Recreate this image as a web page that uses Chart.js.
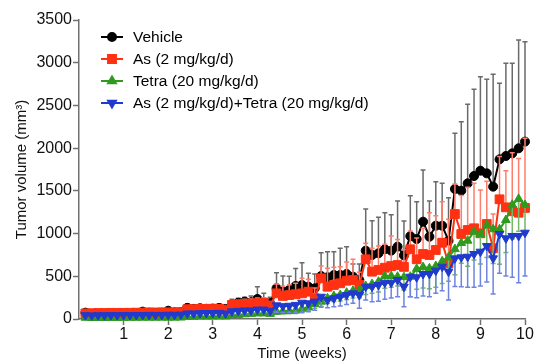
<!DOCTYPE html>
<html>
<head>
<meta charset="utf-8">
<script src="https://cdn.jsdelivr.net/npm/chart.js@4.4.1/dist/chart.umd.min.js"></script>
<style>
html,body{margin:0;padding:0;background:#fff;}
canvas{display:block;}
</style>
</head>
<body>
<canvas id="c" width="535" height="363"></canvas>
<script>
// Measurement days (x axis shown in weeks)
const days = [1,2,3,4,5,6,7,8,9,10,11,12,13,14,15,16,17,18,19,20,21,22,23,24,25,26,27,28,29,30,31,32,33,34,35,36,37,38,39,40,41,42,43,44,45,46,47,48,49,50,51,52,53,54,55,56,57,58,59,60,61,62,63,64,65,66,67,68,69,70];

const seriesLabels = ["Vehicle", "As (2 mg/kg/d)", "Tetra (20 mg/kg/d)", "As (2 mg/kg/d)+Tetra (20 mg/kg/d)"];

const vehicle = [74,55,58,60,62,62,64,60,65,86,75,72,75,97,78,80,
  130,118,125,120,122,128,118,
  160,190,203,195,234,200,185,
  359,320,340,386,398,378,359,
  503,488,515,515,527,495,456,
  800,749,769,816,800,847,745,
  970,936,1139,963,1092,1092,917,
  1522,1502,1588,1674,1736,1705,1549,
  1869,1908,1939,1998,2076];
const vehicleErr = [20,15,15,15,15,18,18,15,18,25,20,20,22,30,22,25,
  45,40,45,40,45,50,40,
  70,52,51,74,144,100,69,
  183,183,160,204,261,157,168,
  273,300,273,313,320,149,188,
  488,402,421,428,420,534,402,
  473,437,605,418,515,496,503,
  652,808,925,1015,1101,1101,1315,
  890,1085,1054,1268,1170];

const arsenic = [65,68,70,70,72,72,72,73,74,75,76,76,77,78,78,80,
  115,115,118,118,120,120,110,
  165,170,175,180,185,190,155,
  300,270,280,290,300,320,242,
  476,378,398,418,448,456,398,
  699,554,574,600,620,632,610,
  816,699,761,749,808,893,652,
  1229,995,1042,1062,1003,1112,828,
  1401,1307,1261,1244,1300];
const arsenicErr = [10,10,10,10,10,12,12,12,12,12,12,12,14,14,14,14,
  30,30,32,32,35,35,30,
  50,50,55,55,60,60,50,
  110,115,120,128,176,145,120,
  144,215,207,194,220,243,150,
  187,274,280,274,352,300,200,
  214,250,300,495,400,480,515,
  350,450,500,526,507,500,400,
  500,429,686,636,815];

const tetra = [15,12,12,12,13,13,14,14,14,15,15,15,16,16,16,17,
  25,26,28,28,30,30,30,
  45,48,55,60,65,65,60,
  85,90,95,100,120,135,175,
  203,242,269,281,308,331,339,
  386,410,437,503,503,495,490,
  495,587,608,593,620,675,722,
  818,890,917,1022,993,1100,1050,
  1050,1159,1338,1406,1334];
const tetraErr = [5,5,5,5,5,5,5,5,5,6,6,6,6,6,6,6,
  10,10,10,10,12,12,12,
  18,18,20,20,22,22,20,
  30,30,35,35,40,45,50,
  55,60,65,70,80,85,90,
  100,110,120,144,130,109,150,
  234,240,245,240,249,260,280,
  300,238,300,330,350,380,400,
  410,380,400,380,330];

const combo = [45,42,43,44,45,45,46,46,47,47,48,48,48,50,50,52,
  65,65,68,70,70,72,65,
  90,95,100,100,110,110,95,
  160,150,155,165,191,184,203,
  261,222,242,261,281,300,281,
  378,378,398,425,425,456,378,
  495,488,527,527,566,612,554,
  710,722,729,761,788,854,710,
  995,944,972,972,1010];
const comboErr = [10,10,10,10,10,10,10,10,10,10,11,11,11,12,12,12,
  20,20,22,22,22,24,20,
  35,35,38,38,40,40,35,
  80,75,80,85,117,98,100,
  124,90,100,109,110,116,156,
  156,175,190,195,180,195,234,
  234,239,258,266,266,280,332,
  330,344,358,390,402,420,417,
  460,441,484,547,507];

const xTicks = [1,2,3,4,5,6,7,8,9,10];
const yTicks = [0,500,1000,1500,2000,2500,3000,3500];

const FONT = "'Liberation Sans', Arial, Helvetica, sans-serif";

function pts(vals){ return vals.map((v,i)=>({x: days[i]/7, y: v})); }

const errPlugin = {
  id: 'errbars',
  beforeDatasetDraw(chart, args){
    const ds = chart.data.datasets[args.index];
    if (!ds.err) return;
    const ys = chart.scales.y;
    const ctx = chart.ctx;
    ctx.save();
    ctx.strokeStyle = ds.errColor;
    ctx.lineWidth = 1.5;
    args.meta.data.forEach((el, i) => {
      const v = ds.data[i].y;
      const e = ds.err[i];
      const y1 = ys.getPixelForValue(v);
      const y2 = ys.getPixelForValue(v + ds.errDir * e);
      ctx.beginPath();
      ctx.moveTo(el.x, y1);
      ctx.lineTo(el.x, y2);
      ctx.moveTo(el.x - 2.5, y2);
      ctx.lineTo(el.x + 2.5, y2);
      ctx.stroke();
    });
    ctx.restore();
  }
};

const legendPlugin = {
  id: 'insideLegend',
  afterDraw(chart){
    const ctx = chart.ctx;
    const rows = [37, 59, 81, 103];
    ctx.save();
    chart.data.datasets.forEach((ds, i) => {
      const y = rows[i];
      ctx.strokeStyle = ds.borderColor;
      ctx.lineWidth = 2;
      ctx.beginPath();
      ctx.moveTo(101, y);
      ctx.lineTo(123, y);
      ctx.stroke();
      ctx.fillStyle = ds.backgroundColor;
      ctx.strokeStyle = ds.borderColor;
      Chart.helpers.drawPoint(ctx, {pointStyle: ds.pointStyle, radius: ds.legendRadius, rotation: ds.pointRotation || 0, borderWidth: 1}, 112, y);
      ctx.fillStyle = '#000';
      ctx.font = "15.5px " + FONT;
      ctx.textBaseline = 'middle';
      ctx.textAlign = 'left';
      ctx.fillText(seriesLabels[i], 133, y + 1);
    });
    ctx.restore();
  }
};

const AXIS = '#707070';

new Chart(document.getElementById('c'), {
  type: 'line',
  data: {
    datasets: [
      { label: seriesLabels[0], data: pts(vehicle), err: vehicleErr, errDir: 1, errColor: '#6a6a6a',
        borderColor: '#000000', backgroundColor: '#000000', pointStyle: 'circle', pointRadius: 4.5, legendRadius: 4,
        borderWidth: 2, pointBorderWidth: 1, order: 4 },
      { label: seriesLabels[1], data: pts(arsenic), err: arsenicErr, errDir: 1, errColor: '#ff7d6b',
        borderColor: '#ff3112', backgroundColor: '#ff3112', pointStyle: 'rect', pointRadius: 6.2, legendRadius: 5.6,
        borderWidth: 2, pointBorderWidth: 1, order: 3 },
      { label: seriesLabels[2], data: pts(tetra), err: tetraErr, errDir: -1, errColor: '#72b866',
        borderColor: '#2f9a1e', backgroundColor: '#2f9a1e', pointStyle: 'triangle', pointRadius: 5, legendRadius: 4.5,
        borderWidth: 2, pointBorderWidth: 1, order: 2 },
      { label: seriesLabels[3], data: pts(combo), err: comboErr, errDir: -1, errColor: '#6f84e0',
        borderColor: '#1f3acd', backgroundColor: '#1f3acd', pointStyle: 'triangle', pointRotation: 180, pointRadius: 5, legendRadius: 4.5,
        borderWidth: 2, pointBorderWidth: 1, order: 1 }
    ].map(d => Object.assign({ tension: 0, clip: false, pointHoverRadius: d.pointRadius, pointBorderColor: d.borderColor, pointBackgroundColor: d.backgroundColor, rotation: d.pointRotation || 0 }, d))
  },
  options: {
    responsive: false,
    animation: false,
    devicePixelRatio: 1,
    events: [],
    layout: { padding: { top: 20, right: 10, left: 0, bottom: 0 } },
    plugins: { legend: { display: false }, tooltip: { enabled: false } },
    scales: {
      x: {
        type: 'linear', min: 0, max: 10,
        afterFit(s){ s.height = 44; },
        afterBuildTicks(s){ s.ticks = xTicks.map(v => ({value: v})); },
        ticks: { color: '#111', font: { family: FONT, size: 16 }, padding: 0, maxRotation: 0, autoSkip: false, callback: v => String(v) },
        grid: { drawOnChartArea: false, drawTicks: true, tickLength: 6, color: AXIS, tickColor: AXIS, tickWidth: 1.5 },
        border: { display: true, color: AXIS, width: 1.5 },
        title: { display: true, text: 'Time (weeks)', color: '#111', font: { family: FONT, size: 15 }, padding: { top: 0, bottom: 0 } }
      },
      y: {
        type: 'linear', min: 0, max: 3500,
        afterFit(s){ s.width = 79; },
        afterBuildTicks(s){ s.ticks = yTicks.map(v => ({value: v})); },
        ticks: { color: '#111', font: { family: FONT, size: 16 }, padding: 1, autoSkip: false, callback: v => String(v) },
        grid: { drawOnChartArea: false, drawTicks: true, tickLength: 6, color: AXIS, tickColor: AXIS, tickWidth: 1.5 },
        border: { display: true, color: AXIS, width: 1.5 },
        title: { display: true, text: 'Tumor volume (mm³)', color: '#111', font: { family: FONT, size: 15 }, padding: { top: 13, bottom: 0 } }
      }
    }
  },
  plugins: [errPlugin, legendPlugin]
});
</script>
</body>
</html>
